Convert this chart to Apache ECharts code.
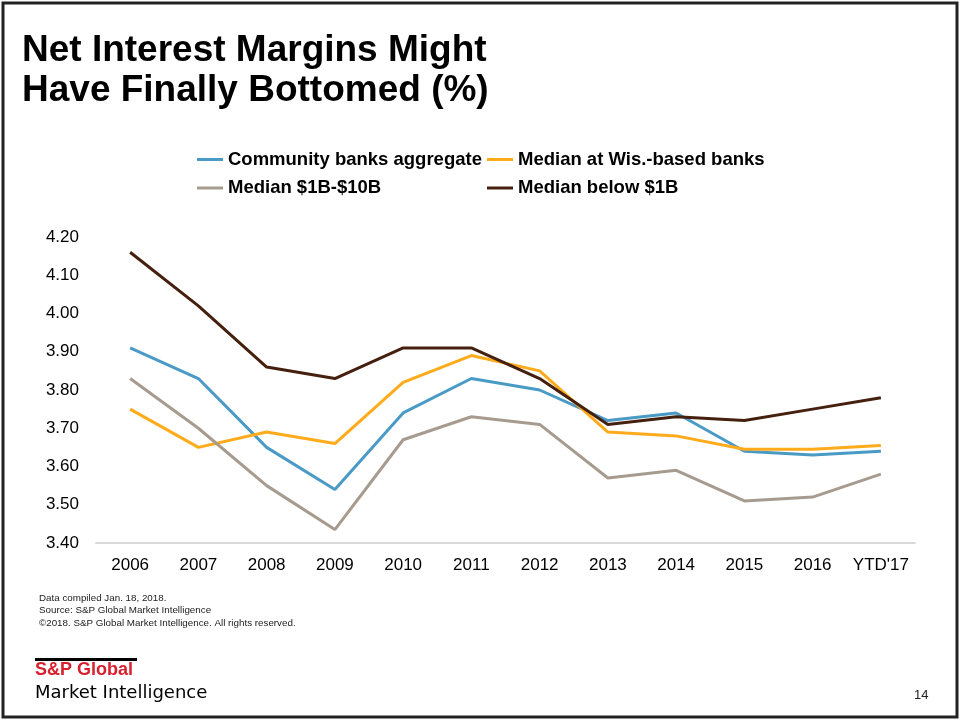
<!DOCTYPE html>
<html>
<head>
<meta charset="utf-8">
<script src="https://cdn.jsdelivr.net/npm/echarts@6/dist/echarts.min.js"></script>
<style>
  html, body { margin: 0; padding: 0; background: #fff; }
  #chart { width: 960px; height: 721px; }
</style>
</head>
<body>
<div id="chart"></div>
<script>
// Net interest margin (%) by year
const years = ['2006', '2007', '2008', '2009', '2010', '2011', '2012', '2013', '2014', '2015', '2016', "YTD'17"];
const communityAggregate = [3.91, 3.83, 3.65, 3.54, 3.74, 3.83, 3.80, 3.72, 3.74, 3.64, 3.63, 3.64];
const medianWisBased = [3.75, 3.65, 3.69, 3.66, 3.82, 3.89, 3.85, 3.69, 3.68, 3.645, 3.645, 3.655];
const median1Bto10B = [3.83, 3.70, 3.55, 3.435, 3.67, 3.73, 3.71, 3.57, 3.59, 3.51, 3.52, 3.58];
const medianBelow1B = [4.16, 4.02, 3.86, 3.83, 3.91, 3.91, 3.83, 3.71, 3.73, 3.72, 3.75, 3.78];
const yTicks = { min: 3.4, max: 4.2, step: 0.1 };

const seriesDefs = [
  { name: 'Community banks aggregate', data: communityAggregate, color: '#4A9AC6' },
  { name: 'Median at Wis.-based banks', data: medianWisBased, color: '#FFAB1C' },
  { name: 'Median $1B-$10B', data: median1Bto10B, color: '#A69B8E' },
  { name: 'Median below $1B', data: medianBelow1B, color: '#45200F' }
];

const chart = echarts.init(document.getElementById('chart'));
const legendText = { fontFamily: 'Liberation Sans, Arial, sans-serif', fontWeight: 'bold', fontSize: 18.5, color: '#000' };
const legendBase = {
  orient: 'vertical', top: 150, itemGap: 9.5, itemWidth: 26, itemHeight: 3,
  icon: 'rect', textStyle: legendText, selectedMode: false, padding: 0
};

chart.setOption({
  animation: false,
  backgroundColor: '#fff',
  grid: { left: 96, right: 45, top: 237, bottom: 178 },
  legend: [
    Object.assign({ left: 197, data: ['Community banks aggregate', 'Median $1B-$10B'] }, legendBase),
    Object.assign({ left: 487, data: ['Median at Wis.-based banks', 'Median below $1B'] }, legendBase)
  ],
  xAxis: {
    type: 'category',
    data: years,
    boundaryGap: true,
    axisLine: { lineStyle: { color: '#D9D9D9', width: 2 } },
    axisTick: { show: false },
    axisLabel: { color: '#000', fontSize: 17, fontFamily: 'Liberation Sans, Arial, sans-serif', margin: 14, interval: 0 }
  },
  yAxis: {
    type: 'value',
    min: yTicks.min, max: yTicks.max, interval: yTicks.step,
    splitLine: { show: false },
    axisLine: { show: false },
    axisTick: { show: false },
    axisLabel: {
      color: '#000', fontSize: 17, fontFamily: 'Liberation Sans, Arial, sans-serif', margin: 17,
      formatter: v => v.toFixed(2)
    }
  },
  series: seriesDefs.map(s => ({
    name: s.name, type: 'line', data: s.data, symbol: 'none',
    lineStyle: { color: s.color, width: 3 }, itemStyle: { color: s.color }
  })),
  graphic: [
    // slide frame
    { type: 'rect', shape: { x: 3, y: 3, width: 954, height: 714 }, style: { fill: 'none', stroke: '#222', lineWidth: 3 }, silent: true },
    // title
    { type: 'text', left: 22, top: 31, style: { text: 'Net Interest Margins Might\nHave Finally Bottomed (%)', font: 'bold 37px "Liberation Sans", Arial, sans-serif', fill: '#000', lineHeight: 40 } },
    // footnotes
    { type: 'text', left: 39, top: 592, style: { text: 'Data compiled Jan. 18, 2018.\nSource: S&P Global Market Intelligence\n\u00A92018. S&P Global Market Intelligence. All rights reserved.', font: '9.8px "Liberation Sans Narrow", "Liberation Sans", Arial, sans-serif', fill: '#222', lineHeight: 12.5 } },
    // logo
    { type: 'rect', shape: { x: 35, y: 658, width: 102, height: 3 }, style: { fill: '#000' } },
    { type: 'text', left: 35, top: 661, style: { text: 'S&P Global', font: '900 18px "Liberation Sans", Arial, sans-serif', fill: '#D8202F', letterSpacing: 0.3 } },
    { type: 'text', left: 35, top: 684, style: { text: 'Market Intelligence', font: '18px "DejaVu Sans", sans-serif', fill: '#000', letterSpacing: -0.3 } },
    // page number
    { type: 'text', left: 914, top: 689, style: { text: '14', font: '13px "Liberation Sans", Arial, sans-serif', fill: '#222' } }
  ]
});
</script>
</body>
</html>
